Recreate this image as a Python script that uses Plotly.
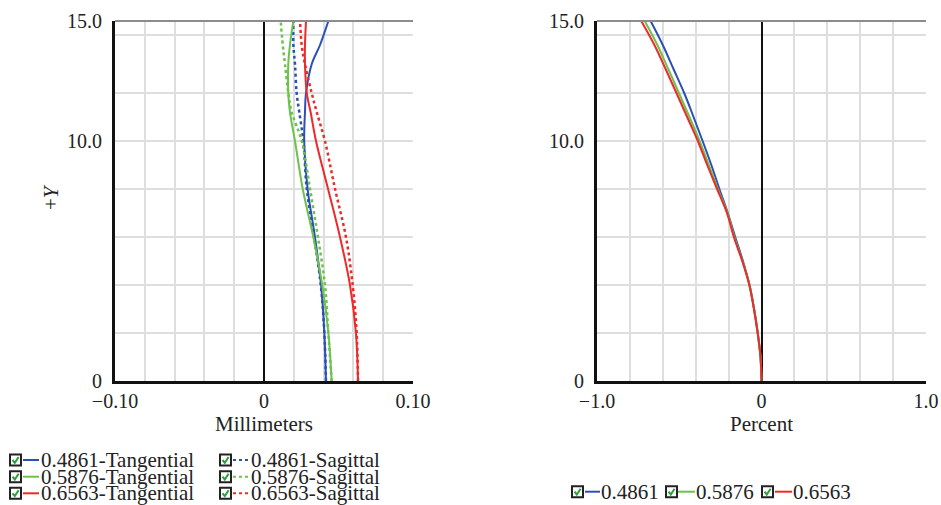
import plotly.graph_objects as go

W, H = 941, 505

wavelengths = ["0.4861", "0.5876", "0.6563"]
colors = ["#2c4fb6", "#6cc24a", "#ec2a2a"]

# field curvature (mm) vs field height
field_y = [0, 2, 4, 6, 8, 10, 11.2, 12, 13.2, 14, 15]
tan_4861 = [0.0416, 0.0405, 0.0383, 0.0342, 0.0293, 0.0270, 0.0275, 0.0282, 0.0320, 0.0376, 0.0432]
sag_4861 = [0.0416, 0.0405, 0.0381, 0.0336, 0.0287, 0.0264, 0.0237, 0.0219, 0.0208, 0.0197, 0.0197]
tan_5876 = [0.0454, 0.0432, 0.0391, 0.0331, 0.0260, 0.0208, 0.0174, 0.0163, 0.0163, 0.0174, 0.0197]
sag_5876 = [0.0454, 0.0432, 0.0409, 0.0362, 0.0309, 0.0253, 0.0186, 0.0163, 0.0141, 0.0126, 0.0112]
tan_6563 = [0.0631, 0.0617, 0.0577, 0.0510, 0.0430, 0.0349, 0.0313, 0.0287, 0.0275, 0.0275, 0.0282]
sag_6563 = [0.0631, 0.0622, 0.0595, 0.0550, 0.0477, 0.0409, 0.0354, 0.0320, 0.0275, 0.0253, 0.0242]

# distortion (%) vs field height
dist_y = [0, 1, 2, 3, 4, 5, 6, 7, 8, 9, 10, 11, 12, 13, 14, 15]
dist_4861 = [0, -0.006, -0.023, -0.045, -0.073, -0.113, -0.160, -0.205, -0.256, -0.305, -0.358, -0.413, -0.470, -0.535, -0.600, -0.674]
dist_5876 = [0, -0.006, -0.023, -0.045, -0.073, -0.116, -0.165, -0.207, -0.265, -0.320, -0.376, -0.438, -0.502, -0.567, -0.633, -0.710]
dist_6563 = [0, -0.006, -0.023, -0.046, -0.074, -0.117, -0.168, -0.210, -0.270, -0.330, -0.387, -0.452, -0.517, -0.583, -0.651, -0.731]

y_ticks = [0, 10, 15]
y_ticktext = ["0", "10.0", "15.0"]
y_grid = [2, 4, 6, 8, 12, 14.4]

left_labels = [w + "-Tangential" for w in wavelengths] + [w + "-Sagittal" for w in wavelengths]

fig = go.Figure()

tan = [tan_4861, tan_5876, tan_6563]
sag = [sag_4861, sag_5876, sag_6563]
for i in range(3):
    fig.add_trace(go.Scatter(x=tan[i], y=field_y, mode="lines", line_shape="spline",
                             line=dict(color=colors[i], width=2), xaxis="x", yaxis="y"))
    fig.add_trace(go.Scatter(x=sag[i], y=field_y, mode="lines", line_shape="spline",
                             line=dict(color=colors[i], width=2.5, dash="dot"), xaxis="x", yaxis="y"))

dist = [dist_4861, dist_5876, dist_6563]
for i in [0, 1, 2]:
    fig.add_trace(go.Scatter(x=dist[i], y=dist_y, mode="lines", line_shape="spline",
                             line=dict(color=colors[i], width=2), xaxis="x2", yaxis="y2"))

grid = "#dedede"
serif = "'Liberation Serif', 'Times New Roman', Times, serif"
font = dict(family=serif, size=20, color="#222222")
font_big = dict(family=serif, size=21, color="#222222")


def xax(domain, rng, tv, tt, minor_dt, title):
    return dict(domain=domain, range=rng, tickvals=tv, ticktext=tt, ticks="", automargin=False,
                showgrid=True, gridcolor=grid, gridwidth=2,
                minor=dict(dtick=minor_dt, tick0=0, showgrid=True, gridcolor=grid, gridwidth=2),
                zeroline=True, zerolinecolor="#111111", zerolinewidth=2,
                showline=True, linecolor="#111111", linewidth=3, tickfont=font,
                ticklabelstandoff=0, title=dict(text=title, standoff=2, font=font_big), fixedrange=True)


def yax(anchor):
    return dict(domain=[(H - 381) / H, (H - 21) / H], range=[0, 15], anchor=anchor,
                tickvals=y_ticks, ticktext=y_ticktext, ticks="", automargin=False,
                showgrid=True, gridcolor=grid, gridwidth=2,
                minor=dict(tickvals=y_grid, showgrid=True, gridcolor=grid, gridwidth=2),
                zeroline=False, showline=True, linecolor="#111111", linewidth=3,
                ticklabelstandoff=6, tickfont=font, fixedrange=True)


fig.update_layout(
    width=W, height=H, margin=dict(l=0, r=0, t=0, b=0, autoexpand=False),
    paper_bgcolor="white", plot_bgcolor="white", font=font, showlegend=False,
    xaxis=xax([115 / W, 413 / W], [-0.1, 0.1], [-0.1, 0, 0.1], ["\u22120.10", "0", "0.10"], 0.02, "Millimeters"),
    yaxis=yax("x"),
    xaxis2=dict(xax([597 / W, 926 / W], [-1, 1], [-1, 0, 1], ["\u22121.0", "0", "1.0"], 0.2, "Percent"), anchor="y2"),
    yaxis2=yax("x2"),
)

# top frame line
for xr, yr in [("x domain", "y domain"), ("x2 domain", "y2 domain")]:
    fig.add_shape(type="line", xref=xr, yref=yr, x0=0, x1=1, y0=1, y1=1,
                  line=dict(color="#8c8c8c", width=2))


def px(x, y):
    return x / W, 1 - y / H


# y-axis title
ty = px(51, 197)
fig.add_annotation(x=ty[0], y=ty[1], xref="paper", yref="paper", text="+<i>Y</i>", textangle=-90,
                   showarrow=False, xanchor="center", yanchor="middle", font=font_big)


def legend_entry(bx, lx0, lx1, tx, cy, color, dash, label):
    x0, y0 = px(bx, cy + 5.5)
    x1, y1 = px(bx + 11, cy - 5.5)
    fig.add_shape(type="rect", xref="paper", yref="paper", x0=x0, y0=y0, x1=x1, y1=y1,
                  line=dict(color="#222222", width=2), fillcolor="white")
    a = px(bx + 2.5, cy)
    b = px(bx + 4.8, cy + 2.8)
    c = px(bx + 8.6, cy - 3)
    fig.add_shape(type="path", xref="paper", yref="paper",
                  path=f"M {a[0]} {a[1]} L {b[0]} {b[1]} L {c[0]} {c[1]}",
                  line=dict(color="#2e9e3e", width=2))
    s0 = px(lx0, cy)
    s1 = px(lx1, cy)
    fig.add_shape(type="line", xref="paper", yref="paper", x0=s0[0], y0=s0[1], x1=s1[0], y1=s1[1],
                  line=dict(color=color, width=2, dash=dash))
    t = px(tx, cy)
    fig.add_annotation(x=t[0], y=t[1], xref="paper", yref="paper", text=label, showarrow=False,
                       xanchor="left", yanchor="middle", font=font_big, borderpad=0)


rows = [460, 476.7, 493.3]
for i in range(3):
    legend_entry(10, 23, 39, 40, rows[i], colors[i], "solid", left_labels[i])
    legend_entry(220, 233, 251, 250, rows[i], colors[i], "dot", left_labels[i + 3])

right_pos = [(572, 585, 600, 600), (666, 678, 695, 695), (762, 775, 792, 792)]
for i, (bx, l0, l1, tx) in enumerate(right_pos):
    legend_entry(bx, l0, l1, tx, 491.7, colors[i], "solid", wavelengths[i])

# drop the default page margin so the 941x505 figure fills the window exactly
fig.write_html("out.html", config={"displayModeBar": False},
               post_script="document.body.style.margin='0px';")
